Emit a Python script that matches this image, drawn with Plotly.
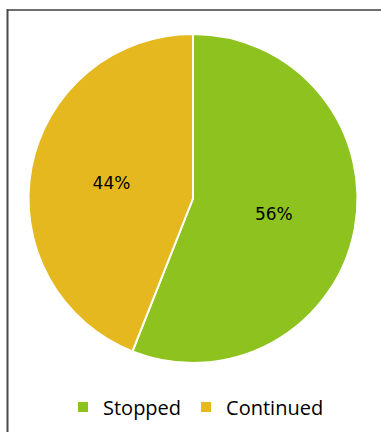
import plotly.graph_objects as go

categories = ["Stopped", "Continued"]
shares = [56, 44]
colors = ["#8DC21F", "#E6B820"]

W, H = 381, 432

fig = go.Figure(
    go.Pie(
        labels=categories,
        values=shares,
        sort=False,
        direction="clockwise",
        rotation=0,
        marker=dict(colors=colors, line=dict(color="white", width=2)),
        texttemplate="%{percent:.0%}",
        textposition="inside",
        insidetextfont=dict(family="DejaVu Sans", size=17, color="black"),
        hoverinfo="label+percent",
        domain=dict(x=[28.5 / W, 357.5 / W], y=[1 - 363 / H, 1 - 34 / H]),
    )
)

fig.update_layout(
    width=W,
    height=H,
    margin=dict(l=0, r=0, t=0, b=0),
    paper_bgcolor="white",
    plot_bgcolor="white",
    showlegend=True,
    legend=dict(
        orientation="h",
        x=196 / W,
        xanchor="center",
        y=1 - 407 / H,
        yanchor="middle",
        font=dict(family="Open Sans", size=20, color="black"),
        itemsizing="constant",
    ),
    shapes=[
        dict(type="line", xref="paper", yref="paper",
             x0=7 / W, x1=1.0, y0=1 - 10 / H, y1=1 - 10 / H,
             line=dict(color="#6e6e6e", width=2)),
        dict(type="line", xref="paper", yref="paper",
             x0=7.5 / W, x1=7.5 / W, y0=0, y1=1 - 9 / H,
             line=dict(color="#4a4a4a", width=2)),
    ],
)

fig.write_html("out.html")
